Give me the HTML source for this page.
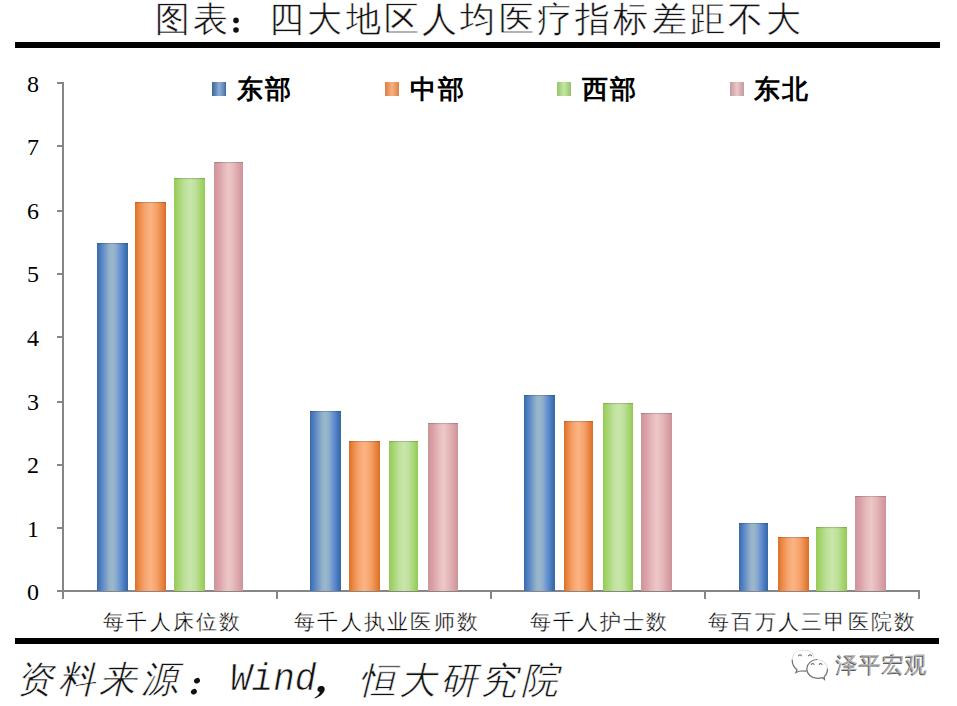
<!DOCTYPE html>
<html><head><meta charset="utf-8">
<style>
html,body{margin:0;padding:0;background:#fff;}
body{width:957px;height:706px;position:relative;overflow:hidden;font-family:"Liberation Serif",serif;color:#000;}
div{position:absolute;}
.rule{background:#000;}
.ax{background:#868686;}
.yl{left:0;width:39px;text-align:right;font-size:24px;line-height:26px;}
.bar{box-shadow:inset 0 2px 1px -1px rgba(0,0,0,0.18);}
.g-blue{background:linear-gradient(90deg,#3a6aa5 0%,#4a7cc0 10%,#6890c8 22%,#94b2c9 40%,#9ab8c8 50%,#8aabd0 62%,#5f8cd0 78%,#3f72b5 92%,#36689f 100%);}
.g-orange{background:linear-gradient(90deg,#dd7026 0%,#ec8a45 14%,#f6a670 32%,#fbb383 50%,#f5a26a 70%,#e98340 88%,#d96e26 100%);}
.g-green{background:linear-gradient(90deg,#96cb55 0%,#a6d46f 14%,#bde09a 34%,#c9e6aa 52%,#bde09a 70%,#a4d46c 88%,#95ca54 100%);}
.g-pink{background:linear-gradient(90deg,#cc949b 0%,#dba2a8 18%,#e7bcbe 38%,#ecc8c8 52%,#e4b6b8 70%,#d8a0a6 88%,#c9949a 100%);}
.lg{width:14px;height:14px;top:82px;}
.lg.g-blue{background:linear-gradient(90deg,#3f6898 0%,#5a82b4 22%,#8cadd6 50%,#6a90c2 78%,#41699a 100%);}
.lg.g-orange{background:linear-gradient(90deg,#d8804a 0%,#ec9660 25%,#f8b080 50%,#eb9a64 75%,#d4824e 100%);}
.lg.g-green{background:linear-gradient(90deg,#98c070 0%,#add682 25%,#c2e8a2 50%,#acd584 75%,#96be6e 100%);}
.lg.g-pink{background:linear-gradient(90deg,#c49aa2 0%,#d8b0b4 25%,#ecc8c8 50%,#d8b0b4 75%,#c49aa2 100%);}
.lt{top:74px;font-size:26px;line-height:32px;font-weight:bold;letter-spacing:2px;white-space:nowrap;}
.cl{top:608px;font-size:20.5px;line-height:28px;letter-spacing:2.25px;white-space:nowrap;-webkit-text-stroke:0.35px #fff;}
.title{left:155px;top:-2px;font-size:35px;line-height:44px;letter-spacing:3.26px;white-space:nowrap;color:#111;-webkit-text-stroke:0.5px #fff;}
.src{top:656.5px;font-size:40px;line-height:48px;font-style:italic;white-space:nowrap;color:#111;-webkit-text-stroke:0.6px #fff;}
.wm{left:836px;top:651px;font-size:21.5px;line-height:28px;color:#b0b0b0;text-shadow:-0.6px 0.6px 0 #5a5a5a;white-space:nowrap;letter-spacing:1px;font-family:"Liberation Sans",sans-serif;}
</style></head><body>
<div class="title">图表</div><div class="title" style="left:269px">四大地区人均医疗指标差距不大</div>
<svg style="position:absolute;left:228px;top:12px" width="16" height="24"><circle cx="8" cy="8.4" r="2.8" fill="#111"/><circle cx="8" cy="18" r="2.8" fill="#111"/></svg>
<div class="rule" style="left:15px;top:42px;width:925px;height:6px"></div>

<div class="ax" style="left:62px;top:82px;width:2px;height:517px"></div>
<div class="ax" style="left:62px;top:590px;width:858px;height:2px"></div>
<div class="ax" style="left:57px;top:590px;width:7px;height:2px"></div><div class="ax" style="left:57px;top:527px;width:7px;height:2px"></div><div class="ax" style="left:57px;top:464px;width:7px;height:2px"></div><div class="ax" style="left:57px;top:401px;width:7px;height:2px"></div><div class="ax" style="left:57px;top:336px;width:7px;height:2px"></div><div class="ax" style="left:57px;top:273px;width:7px;height:2px"></div><div class="ax" style="left:57px;top:210px;width:7px;height:2px"></div><div class="ax" style="left:57px;top:145px;width:7px;height:2px"></div><div class="ax" style="left:57px;top:82px;width:7px;height:2px"></div>
<div class="ax" style="left:62px;top:590px;width:2px;height:9px"></div><div class="ax" style="left:276px;top:590px;width:2px;height:9px"></div><div class="ax" style="left:490px;top:590px;width:2px;height:9px"></div><div class="ax" style="left:704px;top:590px;width:2px;height:9px"></div><div class="ax" style="left:918px;top:590px;width:2px;height:9px"></div>
<div class="yl" style="top:579.2px">0</div><div class="yl" style="top:515.6px">1</div><div class="yl" style="top:452.1px">2</div><div class="yl" style="top:388.5px">3</div><div class="yl" style="top:324.9px">4</div><div class="yl" style="top:261.3px">5</div><div class="yl" style="top:197.8px">6</div><div class="yl" style="top:134.2px">7</div><div class="yl" style="top:70.6px">8</div>
<div class="bar g-blue" style="left:97px;top:243px;width:31px;height:348.0px"></div><div class="bar g-orange" style="left:135px;top:202px;width:31px;height:389.0px"></div><div class="bar g-green" style="left:174px;top:178px;width:31px;height:413.0px"></div><div class="bar g-pink" style="left:214px;top:162px;width:29px;height:429.0px"></div><div class="bar g-blue" style="left:310px;top:411px;width:31px;height:180.0px"></div><div class="bar g-orange" style="left:349px;top:440.5px;width:31px;height:150.5px"></div><div class="bar g-green" style="left:389px;top:440.5px;width:29px;height:150.5px"></div><div class="bar g-pink" style="left:428px;top:423px;width:30px;height:168.0px"></div><div class="bar g-blue" style="left:524px;top:395px;width:31px;height:196.0px"></div><div class="bar g-orange" style="left:564px;top:421px;width:29px;height:170.0px"></div><div class="bar g-green" style="left:603px;top:403px;width:30px;height:188.0px"></div><div class="bar g-pink" style="left:641px;top:413px;width:31px;height:178.0px"></div><div class="bar g-blue" style="left:739px;top:523px;width:29px;height:68.0px"></div><div class="bar g-orange" style="left:778px;top:537px;width:31px;height:54.0px"></div><div class="bar g-green" style="left:816px;top:527px;width:31px;height:64.0px"></div><div class="bar g-pink" style="left:855px;top:495.5px;width:31px;height:95.5px"></div>

<div class="lg g-blue" style="left:212px"></div><div class="lt" style="left:237px">东部</div>
<div class="lg g-orange" style="left:385px"></div><div class="lt" style="left:410px">中部</div>
<div class="lg g-green" style="left:557px"></div><div class="lt" style="left:582px">西部</div>
<div class="lg g-pink" style="left:730px"></div><div class="lt" style="left:754px">东北</div>

<div class="cl" style="left:103px">每千人床位数</div>
<div class="cl" style="left:294px">每千人执业医师数</div>
<div class="cl" style="left:530px">每千人护士数</div>
<div class="cl" style="left:708px">每百万人三甲医院数</div>

<div class="rule" style="left:15px;top:638px;width:924px;height:6px"></div>

<div class="src" style="left:16px;top:656px;font-size:37px;letter-spacing:4.5px">资料来源</div>
<svg style="position:absolute;left:186px;top:673px" width="18" height="26"><ellipse cx="11" cy="7.7" rx="3.1" ry="2.6" transform="rotate(-30 11 7.7)" fill="#111"/><ellipse cx="7.9" cy="18.7" rx="3.1" ry="2.6" transform="rotate(-30 7.9 18.7)" fill="#111"/></svg>
<div class="src" style="left:230px;top:658px;font-family:'Liberation Mono',monospace;font-size:36px;transform:scaleY(1.08);transform-origin:0 100%;">Wind</div>
<svg style="position:absolute;left:310.5px;top:684px" width="18" height="16" viewBox="0 0 18 16"><path d="M9.5 2 C12.5 1.5 14.5 3.5 13.5 6.5 C12.5 9.5 9 12.5 4 14.5 L3.6 13.8 C7 11.5 8.6 9.6 8.8 8 C6.8 7.6 6 6 6.6 4.4 C7.1 3 8.2 2.2 9.5 2 Z" fill="#111"/></svg>
<div class="src" style="left:358.5px;top:656.5px;font-size:37px;letter-spacing:3.5px">恒大研究院</div>

<svg style="position:absolute;left:786px;top:646px" width="48" height="38" viewBox="0 0 48 38">
 <g fill="none" stroke-linecap="round">
  <path d="M10 26.5 C12 24.5 15 24 19.5 24.8 C22 25.2 21 25 20.8 24 M6.2 14 C6.5 7.5 11 4 17 4 C23 4 27.5 7 28 11.5" stroke="#e2e2e2" stroke-width="1.1"/>
  <path d="M31 13.5 C37 13.5 41.5 17.8 41.5 23 C41.5 26 40.5 28.5 38.5 30.5" stroke="#e0e0e0" stroke-width="1.1"/>
  <path d="M6.2 14 C6.2 18 8 21.5 11 23.8 L10 26.5 C12.5 25 15 24.6 19.5 25.2" stroke="#707070" stroke-width="1.2"/>
  <path d="M31 13.5 C26 13.5 21.2 17.5 20.8 22.5 C20.6 28 25.5 32.3 31.5 32.3 C33.2 32.3 35 32.1 36.5 31.6 L38.5 33.5 L38.2 30.6 C40.4 28.8 41.5 26 41.5 23" stroke="#707070" stroke-width="1.2"/>
  <path d="M12.5 9.8 Q14 7.6 15.5 9.8 M22.5 9.8 Q24 7.6 25.5 9.8 M25.3 18.3 Q26.7 16.6 28.1 18.3 M33.2 18.3 Q34.6 16.6 36 18.3" stroke="#6a6a6a" stroke-width="1.1"/>
 </g>
</svg>
<div class="wm">泽平宏观</div>
</body></html>
